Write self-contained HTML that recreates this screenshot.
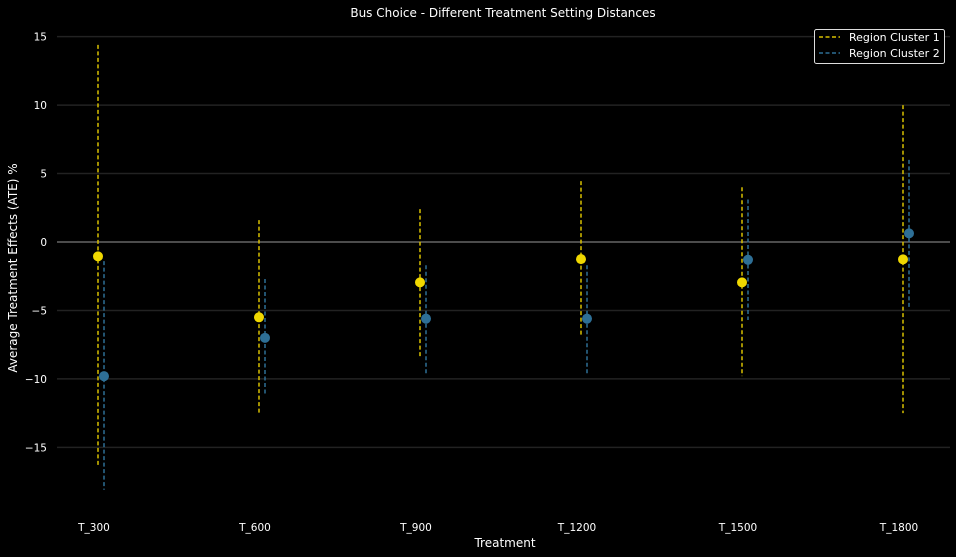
<!DOCTYPE html>
<html><head><meta charset="utf-8"><style>
html,body{margin:0;padding:0;background:#000;}
svg{display:block;font-family:"DejaVu Sans","Liberation Sans",sans-serif;}
</style></head><body>
<svg id="chart" width="956" height="557" viewBox="0 0 956 557">
<rect x="0" y="0" width="956" height="557" fill="#000"/>
<text x="503" y="17" fill="#fff" font-size="12" text-anchor="middle">Bus Choice - Different Treatment Setting Distances</text>
<g id="grid"></g>
<g id="yticks"></g>
<g id="xticks"></g>
<g id="series"></g>
<text x="505" y="547" fill="#fff" font-size="12" text-anchor="middle">Treatment</text>
<text transform="translate(17,268) rotate(-90)" fill="#fff" font-size="12" text-anchor="middle">Average Treatment Effects (ATE) %</text>
<g>
<rect x="814.5" y="29.5" width="130" height="34" rx="2" fill="#000" stroke="#ddd" stroke-width="1"/>
<g>
<line x1="819" y1="37" x2="840" y2="37" stroke="#d8bf00" stroke-width="1.5" stroke-dasharray="4,2.5"/>
<text x="849" y="41" fill="#fff" font-size="11">Region Cluster 1</text></g>
<g>
<line x1="819" y1="53" x2="840" y2="53" stroke="#2e6f96" stroke-width="1.5" stroke-dasharray="4,2.5"/>
<text x="849" y="57" fill="#fff" font-size="11">Region Cluster 2</text></g>
</g>
</svg>
<script>
const categories = ["T_300","T_600","T_900","T_1200","T_1500","T_1800"];
const c1Mean = [-1.05,-5.5,-2.95,-1.25,-2.95,-1.27];
const c1Low  = [-16.4,-12.5,-8.5,-6.9,-9.8,-12.5];
const c1High = [14.4,1.6,2.4,4.45,4.0,10.0];
const c2Mean = [-9.8,-7.0,-5.6,-5.6,-1.3,0.63];
const c2Low  = [-18.1,-11.25,-9.6,-9.7,-5.7,-4.9];
const c2High = [-1.4,-2.7,-1.7,-1.7,3.1,6.0];
const yTicks = [-15,-10,-5,0,5,10,15];

const NS="http://www.w3.org/2000/svg";
const y = v => 242 - v*13.69;
const x = i => 94 + i*161;
function mk(tag, attrs, parent){const e=document.createElementNS(NS,tag);for(const k in attrs)e.setAttribute(k,attrs[k]);parent.appendChild(e);return e;}
const grid=document.getElementById('grid'), yt=document.getElementById('yticks'), xt=document.getElementById('xticks'), ser=document.getElementById('series');
yTicks.forEach(v=>{
  const l=mk('line',{x1:57,x2:950,y1:y(v),y2:y(v),stroke:v===0?'#999':'#222','stroke-width':v===0?1:1.5},grid);
  
  
  const t=mk('text',{x:47,y:y(v)+4,fill:'#fff','font-size':10.5,'text-anchor':'end'},yt);
  t.textContent = v<0 ? '\u2212'+Math.abs(v) : String(v);
  
  
});
categories.forEach((c,i)=>{
  const t=mk('text',{x:x(i),y:531,fill:'#fff','font-size':10.5,'text-anchor':'middle'},xt);
  t.textContent=c;
  
  
});
function series(mean,low,high,off,lc,pc,name){
  mean.forEach((m,i)=>{
    const g=mk('g',{},ser);
    
    
    const l=mk('line',{x1:x(i)+off,x2:x(i)+off,y1:y(high[i]),y2:y(low[i]),stroke:lc,'stroke-width':1.5,'stroke-dasharray':'4,2.5'},g);
    
    
    const p=mk('circle',{cx:x(i)+off,cy:y(m),r:5,fill:pc},g);
    
    
  });
}
series(c1Mean,c1Low,c1High,4,'#d8bf00','#f0d800','cluster-1');
series(c2Mean,c2Low,c2High,10,'#2e6f96','#2e6f96','cluster-2');
</script>
</body></html>
